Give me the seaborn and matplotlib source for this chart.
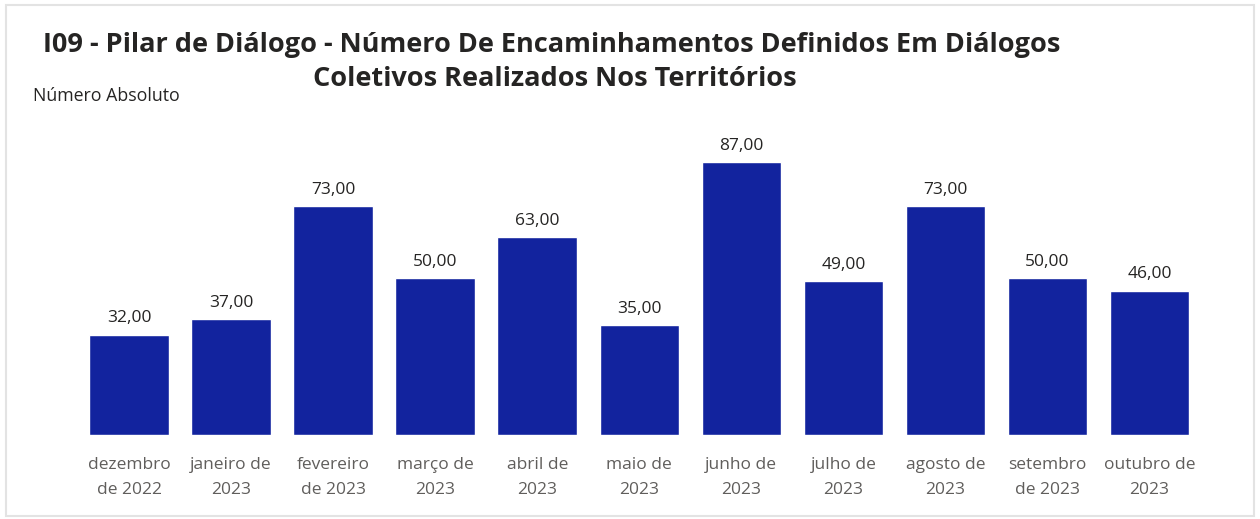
import matplotlib
matplotlib.use("Agg")
import matplotlib.pyplot as plt
import seaborn as sns
import pandas as pd
from matplotlib.patches import Rectangle

# chart data
meses = ["dezembro\nde 2022", "janeiro de\n2023", "fevereiro\nde 2023", "março de\n2023",
         "abril de\n2023", "maio de\n2023", "junho de\n2023", "julho de\n2023",
         "agosto de\n2023", "setembro\nde 2023", "outubro de\n2023"]
valores = [32, 37, 73, 50, 63, 35, 87, 49, 73, 50, 46]

titulo_l1 = "I09 - Pilar de Diálogo - Número De Encaminhamentos Definidos Em Diálogos"
titulo_l2 = "Coletivos Realizados Nos Territórios"

sns.set_style("white")
plt.rcParams['font.family'] = ['Open Sans', 'DejaVu Sans']

df = pd.DataFrame({"mes": meses, "valor": valores})

fig = plt.figure(figsize=(12.6, 5.19), dpi=100)
ax = fig.add_axes([0.0619, 0.1618, 0.891, 0.6047])

sns.barplot(data=df, x="mes", y="valor", color="#12239E", saturation=1,
            width=0.78, ax=ax)

ax.set_ylim(0, 100)
ax.set_xlim(-0.5, len(meses) - 0.5)
ax.set_yticks([])
ax.set_xlabel("")
ax.set_ylabel("")
sns.despine(ax=ax, left=True, bottom=True, top=True, right=True)
ax.tick_params(axis="x", length=0, pad=16, labelsize=12.5, labelcolor="#605E5C")
for lbl in ax.get_xticklabels():
    lbl.set_linespacing(1.75)

ax.bar_label(ax.containers[0], labels=[f"{v:.2f}".replace(".", ",") for v in valores],
             padding=6, fontsize=12.5, color="#252423")

fig.text(0.438, 0.9, titulo_l1, ha="center", va="baseline", fontsize=19.5,
         fontweight="bold", color="#252423")
fig.text(0.44, 0.835, titulo_l2, ha="center", va="baseline", fontsize=19.5,
         fontweight="bold", color="#252423")
fig.text(0.026, 0.806, "Número Absoluto", ha="left", va="baseline", fontsize=12.8,
         color="#252423")

# card border
fig.patches.append(Rectangle((0.005, 0.006), 0.99, 0.984, transform=fig.transFigure,
                             fill=False, edgecolor="#E3E3E3", linewidth=1.5))

fig.savefig("out.png", dpi=100)
